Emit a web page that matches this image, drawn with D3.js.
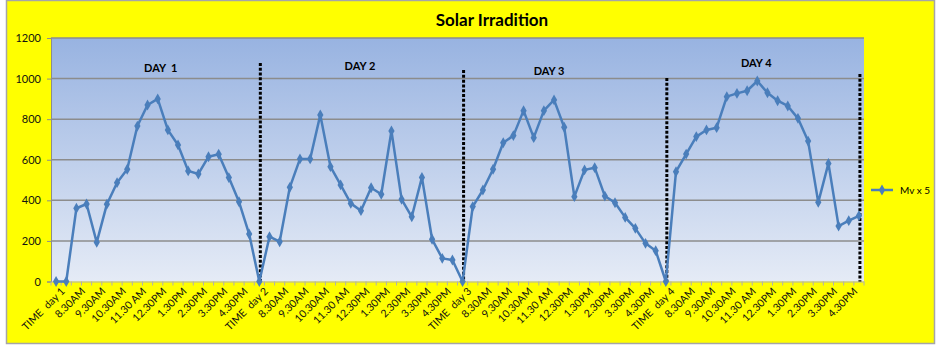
<!DOCTYPE html>
<html>
<head>
<meta charset="utf-8">
<script src="https://cdn.jsdelivr.net/npm/d3@7"></script>
<style>
  body { margin: 0; background: #fff; }
  svg { display: block; font-family: Lato, "Open Sans", sans-serif; }
</style>
</head>
<body>
<div id="chart"></div>
<script>
// categories: every other one is labelled on the axis
const dayTimes = ["8.00AM", "8.30AM", "9.00AM", "9.30AM", "10.00AM", "10.30AM", "11.00AM", "11.30 AM",
  "12.00PM", "12.30PM", "1.00PM", "1.30PM", "2.00PM", "2.30PM", "3.00PM", "3.30PM", "4.00PM", "4.30PM", "5.00PM"];
const categories = [1, 2, 3, 4].flatMap(d => ["TIME  day " + d, ...dayTimes]);

const mvX5 = [
  0, 0, 361, 382, 193, 381, 487, 553, 766, 870, 900, 747, 673, 545, 530, 615, 627, 512, 393, 234,
  0, 221, 196, 464, 604, 604, 821, 566, 476, 385, 349, 462, 430, 742, 405, 319, 513, 208, 114, 106,
  0, 369, 451, 553, 684, 719, 842, 709, 842, 895, 760, 418, 550, 561, 421, 388, 316, 262, 188, 152,
  0, 541, 628, 714, 747, 758, 911, 927, 940, 988, 930, 891, 865, 804, 692, 390, 582, 273, 300, 324
];

const yTicks = [0, 200, 400, 600, 800, 1000, 1200];

// dotted day separators: category index and top value
const dividerIdx = [20, 40, 60, 79];
const dividerTop = [1077, 1042, 1003, 1023];

const dayLabels = ["DAY  1", "DAY 2", "DAY 3", "DAY 4"];
const dayLabelIdx = [10.3, 29.9, 48.5, 68.9];
const dayLabelVal = [1030, 1040, 1020, 1055];

const W = 937, H = 346;
const plot = {left: 51, right: 864, top: 38, bottom: 281.5};

const svg = d3.select("#chart").append("svg")
  .attr("width", W).attr("height", H);

const defs = svg.append("defs");
const grad = defs.append("linearGradient")
  .attr("id", "plotbg").attr("x1", 0).attr("y1", 0).attr("x2", 0).attr("y2", 1);
grad.append("stop").attr("offset", "0%").attr("stop-color", "#98b3e1");
grad.append("stop").attr("offset", "100%").attr("stop-color", "#e5ebf6");

// chart background
svg.append("rect")
  .attr("x", 6.5).attr("y", 0.5).attr("width", 928).attr("height", 343)
  .attr("fill", "#ffff00").attr("stroke", "#a6a6a6").attr("stroke-width", 1.5);

svg.append("text")
  .attr("x", 492).attr("y", 26)
  .attr("text-anchor", "middle")
  .attr("font-size", 17).attr("font-weight", "bold")
  .text("Solar Irradition");

const x = d3.scaleBand()
  .domain(d3.range(categories.length))
  .range([plot.left, plot.right]);
// centre of a (possibly fractional) category position
const cx = i => plot.left + (i + 0.5) * x.step();

const y = d3.scaleLinear()
  .domain([0, 1200])
  .range([plot.bottom, plot.top]);

svg.append("rect")
  .attr("x", plot.left).attr("y", plot.top)
  .attr("width", plot.right - plot.left).attr("height", plot.bottom - plot.top)
  .attr("fill", "url(#plotbg)");

// gridlines
svg.append("g")
  .selectAll("line")
  .data(yTicks.filter(v => v > 0))
  .join("line")
  .attr("x1", plot.left).attr("x2", plot.right)
  .attr("y1", d => y(d)).attr("y2", d => y(d))
  .attr("stroke", "#8c8c8c").attr("stroke-width", 1.5);

// y axis
const yAxis = svg.append("g")
  .attr("transform", `translate(${plot.left},0)`)
  .call(d3.axisLeft(y).tickValues(yTicks).tickFormat(d3.format("d")).tickSize(4).tickPadding(6));
yAxis.select(".domain").attr("stroke", "#8c8c8c");
yAxis.selectAll(".tick line").attr("stroke", "#8c8c8c");
yAxis.selectAll("text").attr("font-size", 11).attr("fill", "#111").attr("font-family", "Lato, sans-serif");

// x axis
const xAxis = svg.append("g")
  .attr("transform", `translate(0,${plot.bottom})`)
  .call(d3.axisBottom(x).tickSize(0).tickPadding(6)
    .tickFormat(i => i % 2 === 0 ? categories[i] : ""));
xAxis.select(".domain").attr("stroke", "#b0b0b0");
xAxis.selectAll("text")
  .attr("font-size", 10.5).attr("fill", "#111").attr("font-family", "Lato, sans-serif")
  .attr("text-anchor", "end")
  .attr("dy", "0.3em")
  .style("white-space", "pre")
  .attr("transform", "translate(3,4) rotate(-45)");

// tick marks between categories
xAxis.append("g")
  .selectAll("line")
  .data(d3.range(categories.length + 1))
  .join("line")
  .attr("x1", i => plot.left + i * x.step()).attr("x2", i => plot.left + i * x.step())
  .attr("y1", 0).attr("y2", 4)
  .attr("stroke", "#b0b0b0");

// dotted separators
svg.append("g")
  .selectAll("line")
  .data(dividerIdx)
  .join("line")
  .attr("x1", d => cx(d) + 1).attr("x2", d => cx(d) + 1)
  .attr("y1", (d, i) => y(dividerTop[i])).attr("y2", plot.bottom)
  .attr("stroke", "#000").attr("stroke-width", 3)
  .attr("stroke-dasharray", "3,1.8");

// series line
svg.append("path")
  .datum(mvX5)
  .attr("fill", "none")
  .attr("stroke", "#4a7ebb").attr("stroke-width", 2.5)
  .attr("stroke-linejoin", "round")
  .attr("d", d3.line().x((d, i) => cx(i)).y(d => y(d)));

const diamond = d3.symbol().type(d3.symbolDiamond).size(34);
svg.append("g")
  .selectAll("path")
  .data(mvX5)
  .join("path")
  .attr("d", diamond)
  .attr("transform", (d, i) => `translate(${cx(i)},${y(d)})`)
  .attr("fill", "#4a7ebb");

// day labels
svg.append("g")
  .selectAll("text")
  .data(dayLabels)
  .join("text")
  .attr("x", (d, i) => cx(dayLabelIdx[i]))
  .attr("y", (d, i) => y(dayLabelVal[i]))
  .attr("text-anchor", "middle")
  .attr("font-size", 11).attr("font-weight", "bold")
  .style("white-space", "pre")
  .text(d => d);

// legend
const lg = svg.append("g").attr("transform", "translate(871,190)");
lg.append("line").attr("x1", 0).attr("x2", 22).attr("stroke", "#4a7ebb").attr("stroke-width", 2.5);
lg.append("path").attr("d", diamond).attr("transform", "translate(11,0)").attr("fill", "#4a7ebb");
lg.append("text").attr("x", 29).attr("y", 0).attr("dy", "0.35em")
  .attr("font-size", 10).text("Mv x 5");
</script>
</body>
</html>
